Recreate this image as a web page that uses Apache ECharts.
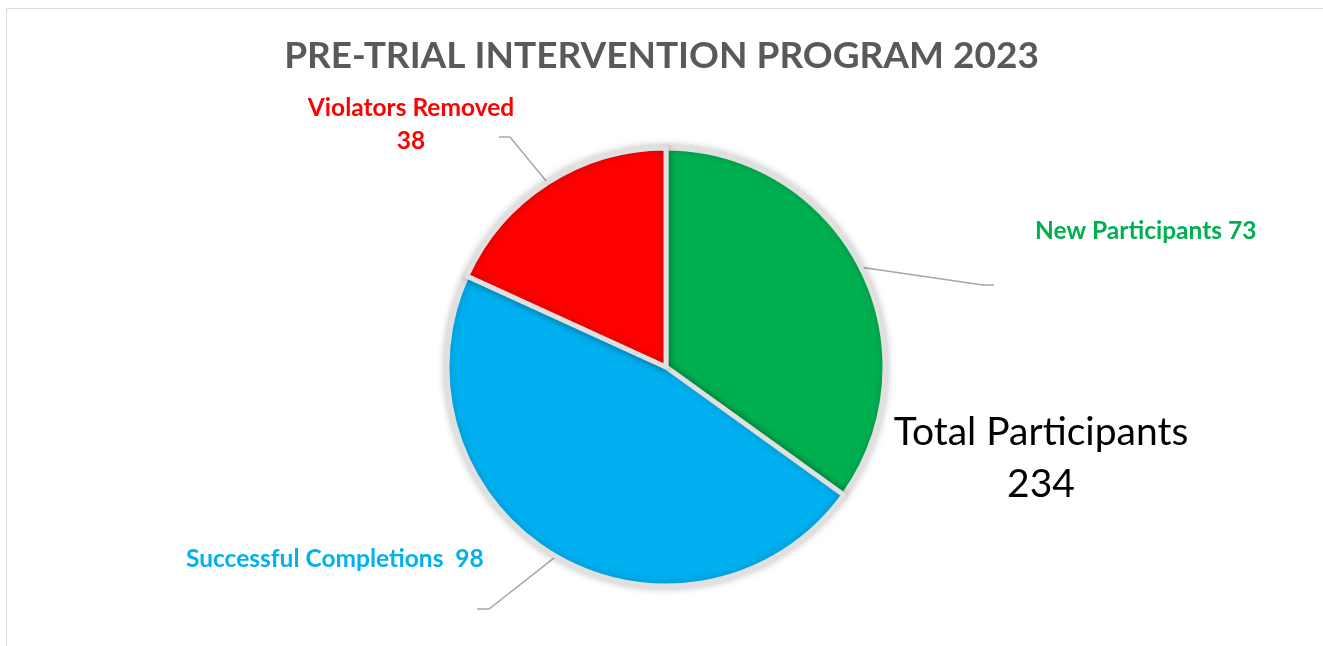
<!DOCTYPE html>
<html>
<head>
    <meta charset="utf-8">
    <title>Pre-Trial Intervention Program 2023</title>
    <script src="https://cdn.jsdelivr.net/npm/echarts@6/dist/echarts.min.js"></script>
    <style>
        html, body { margin: 0; padding: 0; background: #fff; }
        #chartShow { width: 1323px; height: 646px; }
    </style>
</head>
<body>
<div id="chartShow"></div>
<script>
    // chart data
    var categories = ['New Participants', 'Successful Completions', 'Violators Removed'];
    var values = [73, 98, 38];
    var colors = ['#00b050', '#00b0f0', '#ff0000'];
    var labelFormats = ['{b} {c}', '{b}  {c}', '{b}\n{c}'];
    var totalText = 'Total Participants\n234';

    // where each label sits, and where its leader line bends / ends
    var labelPos = [[1035, 231], [186, 559], [411, 125]];
    var labelAlign = ['left', 'left', 'center'];
    var lineBend = [[983, 285], [489, 609], [510, 137]];
    var lineEnd = [[994, 285], [477, 609], [499, 137]];

    var font = 'Lato, "Open Sans", sans-serif';
    var chart = echarts.init(document.getElementById('chartShow'));

    var data = [];
    for (var i = 0; i < categories.length; i++) {
        data.push({
            name: categories[i],
            value: values[i],
            itemStyle: { color: colors[i] },
            label: { formatter: labelFormats[i], color: colors[i] }
        });
    }

    var option = {
        animation: false,
        title: {
            text: 'PRE-TRIAL INTERVENTION PROGRAM 2023',
            left: 'center',
            top: 33,
            textStyle: {
                fontFamily: font,
                fontSize: 37,
                fontWeight: 'bold',
                color: '#595959'
            }
        },
        graphic: [
            {
                type: 'rect',
                shape: { x: 6.5, y: 8.5, width: 1400, height: 700 },
                style: { fill: 'none', stroke: '#d9d9d9', lineWidth: 1 },
                silent: true
            },
            {
                type: 'text',
                x: 1041,
                y: 458,
                style: {
                    text: totalText,
                    fontFamily: font,
                    fontSize: 39,
                    lineHeight: 52,
                    align: 'center',
                    verticalAlign: 'middle',
                    fill: '#000'
                }
            }
        ],
        series: [{
            type: 'pie',
            center: [666, 367],
            radius: 219,
            startAngle: 90,
            clockwise: true,
            data: data,
            itemStyle: {
                borderColor: '#e0e0e0',
                borderWidth: 5,
                shadowBlur: 8,
                shadowColor: 'rgba(0,0,0,0.22)'
            },
            label: {
                show: true,
                position: 'outside',
                fontFamily: font,
                fontSize: 24.5,
                fontWeight: 'bold',
                lineHeight: 33
            },
            labelLine: {
                show: true,
                lineStyle: { color: '#a6a6a6', width: 1.5 }
            },
            labelLayout: function (params) {
                var k = params.dataIndex;
                var pts = params.labelLinePoints;
                return {
                    x: labelPos[k][0],
                    y: labelPos[k][1],
                    align: labelAlign[k],
                    verticalAlign: 'middle',
                    labelLinePoints: [pts[0], lineBend[k], lineEnd[k]]
                };
            }
        }]
    };
    chart.setOption(option);
</script>
</body>
</html>
